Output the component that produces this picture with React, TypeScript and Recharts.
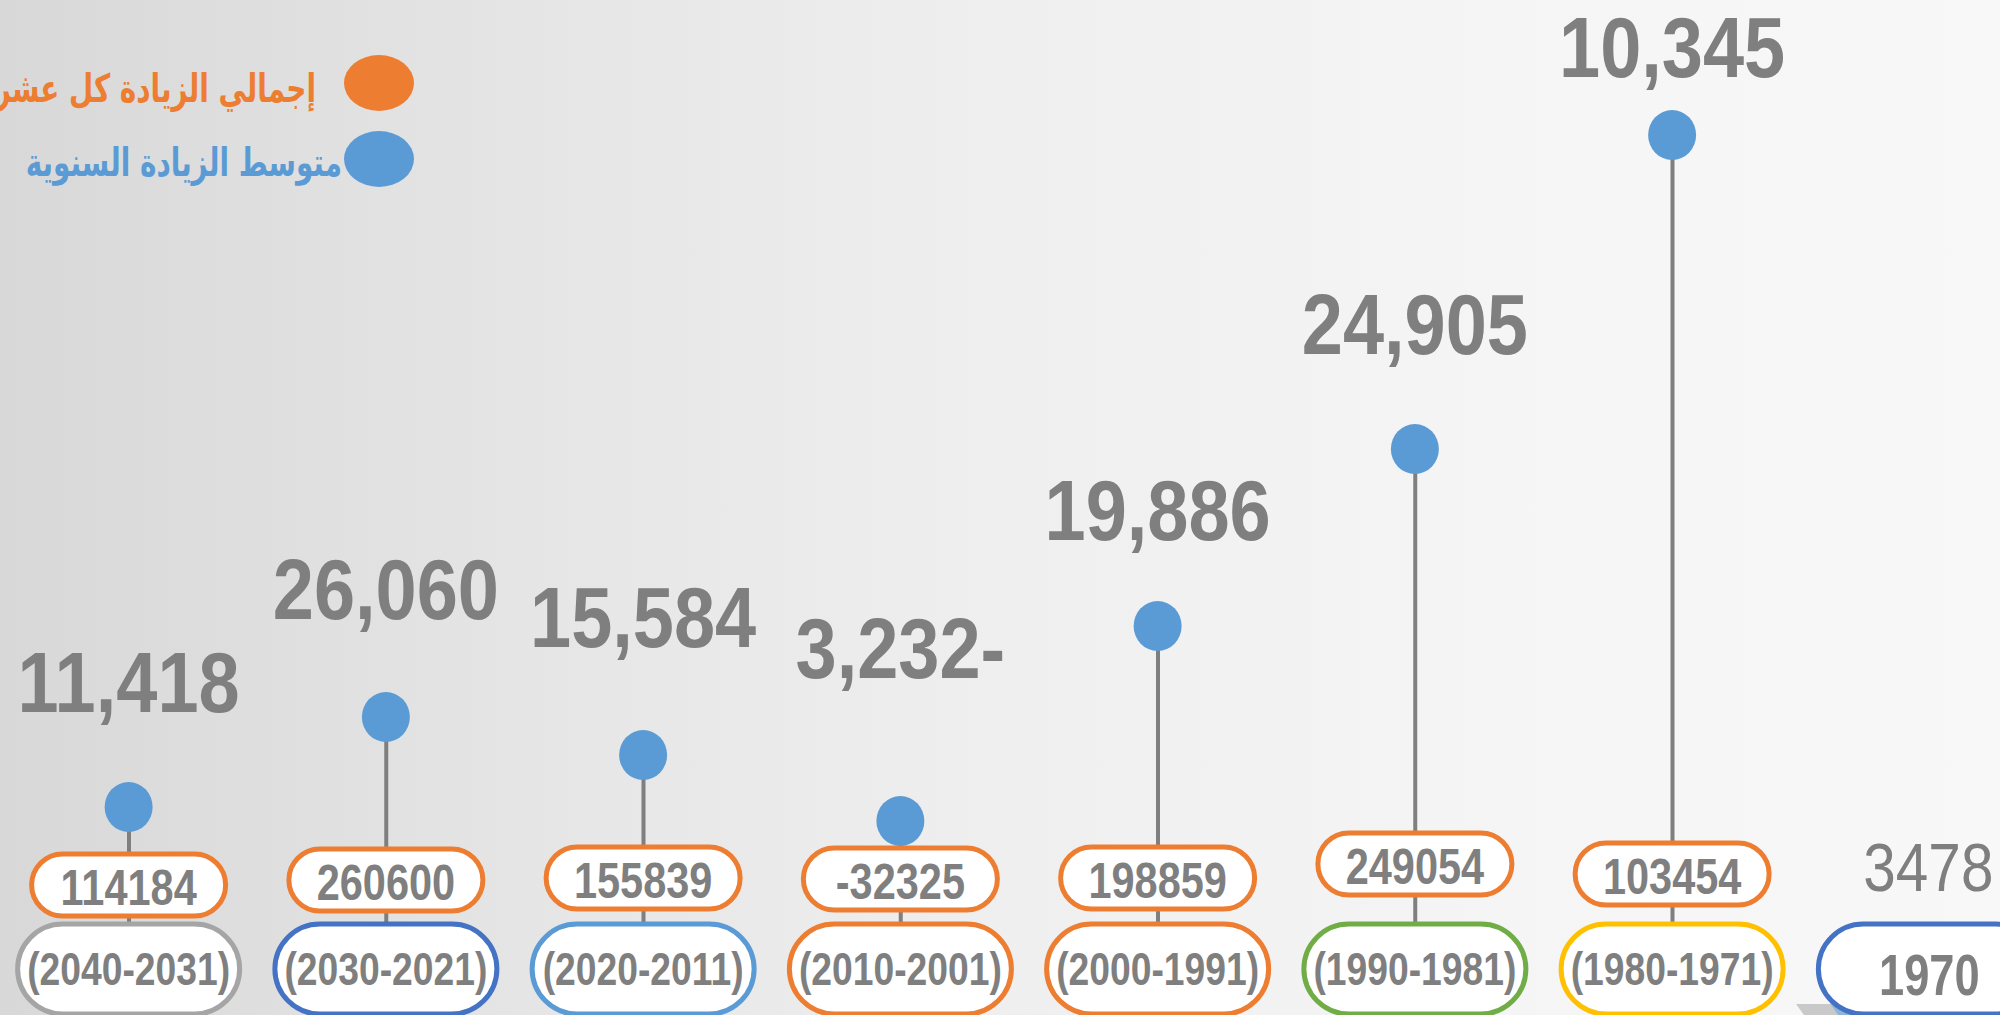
import React from "react";
import { Bar, ComposedChart, Line, XAxis, YAxis } from "recharts";

// decades, from newest to the base year
const periods = ["(2040-2031)", "(2030-2021)", "(2020-2011)", "(2010-2001)", "(2000-1991)", "(1990-1981)", "(1980-1971)", "1970"];
// total increase per decade (base year holds its population)
const totalIncrease = [114184, 260600, 155839, -32325, 198859, 249054, 103454, 3478];
// average annual increase
const annualAverage = [11418, 26060, 15584, -3232, 19886, 24905, 10345, null];
// height of the pin head above the period box, as drawn in the picture
const pinHeight = [118, 208, 170, 104, 299, 476, 790, null];
// height of the big average number
const averageLevel = [243, 336, 308, 277, 415, 601, 878, null];
// height of the total box
const totalLevel = [40, 45, 47, 46, 47, 61, 51, 58];

const periodBorders = ["#a5a5a5", "#4472c4", "#5b9bd5", "#ed7d31", "#ed7d31", "#70ad47", "#ffc000", "#4472c4"];

const legendNames = ["إجمالي الزيادة  كل عشر سنوات", "متوسط الزيادة السنوية"];
const legendColors = ["#ed7d31", "#5b9bd5"];

const GREY = "#7f7f7f";
const ARIAL = "'Liberation Sans', Arial, sans-serif";

const data = periods.map((period, i) => ({
  period,
  total: totalIncrease[i],
  average: annualAverage[i],
  pin: pinHeight[i],
  averageLevel: averageLevel[i],
  totalLevel: totalLevel[i],
}));

function formatAverage(v: number) {
  const s = Math.abs(v).toLocaleString("en-US");
  return v < 0 ? s + "-" : s;
}

// condensed text: Arial squeezed horizontally, like Arial Narrow
function Narrow({ x, y, sx = 0.82, size, bold = true, children }: any) {
  return (
    <text
      transform={`translate(${x},${y}) scale(${sx},1)`}
      textAnchor="middle"
      dominantBaseline="central"
      fill={GREY}
      fontFamily={ARIAL}
      fontWeight={bold ? "bold" : "normal"}
      fontSize={size}
    >
      {children}
    </text>
  );
}

function PeriodTick(props: any) {
  const { x, y, payload } = props;
  const i = periods.indexOf(payload.value);
  const isBase = pinHeight[i] == null;
  const w = 222;
  const h = 90;
  return (
    <g>
      <rect x={x - w / 2} y={y - 3} width={w} height={h} rx={h / 2} fill="#fff" stroke={periodBorders[i]} strokeWidth={5} />
      <Narrow x={x} y={y + (isBase ? 48 : 42)} size={isBase ? 58 : 46} sx={isBase ? 0.78 : 0.81}>
        {payload.value}
      </Narrow>
    </g>
  );
}

function PinHead(props: any) {
  const { cx, cy, index } = props;
  if (cy == null || isNaN(cy)) return <g key={`pin-${index}`} />;
  return <ellipse key={`pin-${index}`} cx={cx} cy={cy} rx={24} ry={25} fill="#5b9bd5" />;
}

function TotalBox(props: any) {
  const { cx, cy, index, payload } = props;
  if (cy == null || isNaN(cy)) return <g key={`tot-${index}`} />;
  if (payload.pin == null) {
    return (
      <g key={`tot-${index}`}>
        <Narrow x={cx - 1} y={cy} size={68} sx={0.86} bold={false}>
          {payload.total}
        </Narrow>
      </g>
    );
  }
  const w = 194;
  const h = 62;
  return (
    <g key={`tot-${index}`}>
      <rect x={cx - w / 2} y={cy - h / 2} width={w} height={h} rx={h / 2} fill="#fff" stroke="#ed7d31" strokeWidth={5} />
      <Narrow x={cx} y={cy + 3} size={50} sx={0.83}>
        {payload.total}
      </Narrow>
    </g>
  );
}

function AverageLabel(props: any) {
  const { cx, cy, index, payload } = props;
  if (cy == null || isNaN(cy) || payload.average == null) return <g key={`avg-${index}`} />;
  return (
    <g key={`avg-${index}`}>
      <Narrow x={cx} y={cy} size={86} sx={0.86}>
        {formatAverage(payload.average)}
      </Narrow>
    </g>
  );
}

function LegendBlock() {
  return (
    <g>
      {legendNames.map((name, i) => (
        <g key={name}>
          <ellipse cx={379} cy={83 + i * 76} rx={35} ry={28} fill={legendColors[i]} />
          <text
            transform={`translate(${i === 0 ? 316 : 342},${88 + i * 74}) scale(0.82,1.15)`}
            textAnchor="end"
            dominantBaseline="central"
            fill={legendColors[i]}
            fontFamily="'DejaVu Sans', sans-serif"
            fontWeight="bold"
            fontSize={34}
          >
            {name}
          </text>
        </g>
      ))}
      {/* slide decoration peeking in at the bottom right */}
      <polygon points="1796,1004 1840,1004 1846,1015 1804,1015" fill="#c9c9c9" />
      <polygon points="1830,1003 1880,1003 1886,1015 1838,1015" fill="#8fb6d4" />
    </g>
  );
}

export default function App() {
  return (
    <div
      style={{
        width: 2000,
        height: 1015,
        overflow: "hidden",
        background: "linear-gradient(to right, #d8d8d8 0%, #e6e6e6 28%, #efefef 50%, #f5f5f5 75%, #f8f8f8 100%)",
      }}
    >
      <style>{"html,body{margin:0;overflow:hidden;}"}</style>
      <ComposedChart width={2000} height={1015} data={data} margin={{ top: 0, right: -58, bottom: 0, left: 0 }}>
        <XAxis dataKey="period" height={90} axisLine={false} tickLine={false} tickSize={0} interval={0} tick={<PeriodTick />} />
        <YAxis hide type="number" domain={[0, 925]} allowDataOverflow />
        <Bar dataKey="pin" barSize={4} fill={GREY} isAnimationActive={false} />
        <Line dataKey="totalLevel" stroke="none" dot={TotalBox} activeDot={false} isAnimationActive={false} />
        <Line dataKey="pin" stroke="none" dot={PinHead} activeDot={false} isAnimationActive={false} />
        <Line dataKey="averageLevel" stroke="none" dot={AverageLabel} activeDot={false} isAnimationActive={false} />
        <LegendBlock />
      </ComposedChart>
    </div>
  );
}
